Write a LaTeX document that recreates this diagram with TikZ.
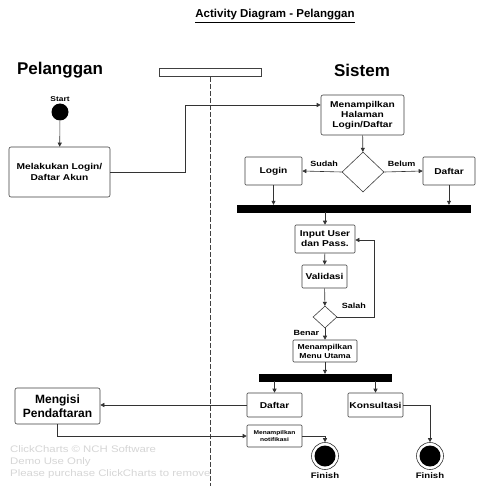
\documentclass[tikz,border=0pt]{standalone}
\usepackage{fontspec}
\setmainfont{Liberation Sans}
\newfontfamily\widesans[FakeStretch=1.2]{Liberation Sans}
\usetikzlibrary{arrows.meta,shapes.geometric,positioning}

\tikzset{
    actbox/.style={draw=black!75, rounded corners=2pt, align=center, inner sep=1pt, line width=0.6pt, font=\widesans\bfseries\fontsize{8.5}{10}\selectfont},
    decide/.style={draw=black!75, diamond, inner sep=0pt, line width=0.6pt},
    forkbar/.style={fill=black, draw=black, inner sep=0pt},
    flow/.style={draw=black!80, line width=0.6pt, -{Triangle[length=4pt,width=4pt]}},
    flowlabel/.style={font=\widesans\bfseries\fontsize{7.5}{9}\selectfont, inner sep=0.75pt},
    lanetitle/.style={font=\bfseries\fontsize{17}{19}\selectfont},
    endnode/.style={circle, draw=black!80, line width=0.6pt, minimum size=27pt, inner sep=0pt,
        path picture={\fill (path picture bounding box.center) circle (10.5pt);}}
}

\begin{document}
\begin{tikzpicture}[x=1pt,y=1pt,yscale=-1,xscale=1]
        \useasboundingbox (0,0) rectangle (486,486);
        \fill[white] (0,0) rectangle (486,486);

        % Title and swimlanes
        \node[font=\bfseries\fontsize{11.5}{13}\selectfont] (title) at (275,16) {\underline{Activity Diagram - Pelanggan}};
        \node[lanetitle] (pelanggan) at (60,70) {Pelanggan};
        \node[lanetitle] (sistem) at (362,70) {Sistem};
        \node[draw=black!75, line width=0.6pt, minimum width=102pt, minimum height=8pt, inner sep=0pt] (lane) at (210,72.5) {};
        \coordinate (laneend) at (210,486);
        \draw[black!75, line width=0.6pt, dash pattern=on 5pt off 2pt] (lane.south) -- (laneend);

        % Watermark
        \node[anchor=north west, align=left, text=black!16, font=\widesans\fontsize{9.5}{12}\selectfont, inner sep=0pt] (mark) at (10,445) {ClickCharts \copyright{} NCH Software\\Demo Use Only\\Please purchase ClickCharts to remove};

        % Pelanggan lane
        \node[circle, fill=black, minimum size=17pt, inner sep=0pt] (start) at (60,112) {};
        \node[flowlabel, font=\widesans\bfseries\fontsize{7}{8}\selectfont, above=1pt of start] (startlbl) {Start};
        \node[actbox, minimum width=101pt, minimum height=50pt, font=\widesans\bfseries\fontsize{8.5}{11.5}\selectfont] (akun) at (59.5,172) {Melakukan Login/\\Daftar Akun};
        \node[actbox, font=\bfseries\fontsize{12}{14}\selectfont, minimum width=85pt, minimum height=36pt] (mengisi) at (57.5,406) {Mengisi\\Pendaftaran};

        % Sistem lane
        \node[actbox, minimum width=83pt, minimum height=40pt] (halaman) at (362.5,115) {Menampilkan\\Halaman\\Login/Daftar};
        \node[decide, minimum width=42pt, minimum height=40pt] (cek) at (363,172) {};
        \node[actbox, rounded corners=1pt, minimum width=57pt, minimum height=28pt] (login) at (273.5,171) {Login};
        \node[actbox, rounded corners=1pt, minimum width=52pt, minimum height=28pt] (daftar) at (449,171) {Daftar};
        \node[forkbar, minimum width=233pt, minimum height=7pt] (fork1) at (353.5,208.5) {};
        \node[actbox, rounded corners=1pt, minimum width=60pt, minimum height=28pt] (input) at (325,239) {Input User\\dan Pass.};
        \node[actbox, rounded corners=1pt, minimum width=45pt, minimum height=23pt] (validasi) at (324.5,276.5) {Validasi};
        \node[decide, minimum width=24pt, minimum height=22pt] (valid) at (325,317) {};
        \node[actbox, rounded corners=1pt, font=\widesans\bfseries\fontsize{7.2}{9}\selectfont, minimum width=64pt, minimum height=22pt] (menu) at (325,351) {Menampilkan\\Menu Utama};
        \node[forkbar, minimum width=132pt, minimum height=7pt] (fork2) at (325,377.5) {};
        \node[actbox, rounded corners=1pt, minimum width=55pt, minimum height=24pt] (daftardua) at (274.5,405) {Daftar};
        \node[actbox, rounded corners=1pt, minimum width=55pt, minimum height=24pt] (konsul) at (375.5,405) {Konsultasi};
        \node[actbox, rounded corners=1pt, font=\widesans\bfseries\fontsize{5.5}{7}\selectfont, minimum width=55pt, minimum height=22pt] (notif) at (274.5,436) {Menampilkan\\notifikasi};
        \node[endnode] (finA) at (325,456) {};
        \node[endnode] (finB) at (430,456) {};
        \node[flowlabel, font=\widesans\bfseries\fontsize{8}{9}\selectfont, below=2pt of finA] (finAlbl) {Finish};
        \node[flowlabel, font=\widesans\bfseries\fontsize{8}{9}\selectfont, below=2pt of finB] (finBlbl) {Finish};

        % Bends
        \coordinate (bendA) at (185,105);
        \coordinate (loopR) at (374,317);
        \coordinate (loopT) at (374,240);

        % Flows
        \draw[flow] (start) -- (akun);
        \draw[flow] (akun.east) -| (bendA) -- (bendA -| halaman.west);
        \draw[flow] (halaman) -- (cek);
        \draw[flow] (cek.west) -- node[flowlabel, above=4pt, xshift=2pt] {Sudah} (login.east);
        \draw[flow] (cek.east) -- node[flowlabel, above=4pt, xshift=-2pt] {Belum} (daftar.west);
        \draw[flow] (login.south) -- (login.south |- fork1.north);
        \draw[flow] (daftar.south) -- (daftar.south |- fork1.north);
        \draw[flow] (input.north |- fork1.south) -- (input.north);
        \draw[flow] (input) -- (validasi);
        \draw[flow] (validasi) -- (valid);
        \draw[flow] (valid.east) -- (loopR) -- (loopT) -- (loopT -| input.east);
        \node[flowlabel, anchor=west] (salah) at (341,306) {Salah};
        \draw[flow] (valid.south) -- (menu.north);
        \node[flowlabel, anchor=east] (benar) at (320,333) {Benar};
        \draw[flow] (menu) -- (fork2);
        \draw[flow] (daftardua.north |- fork2.south) -- (daftardua.north);
        \draw[flow] (konsul.north |- fork2.south) -- (konsul.north);
        \draw[flow] (daftardua.west) -- (daftardua.west -| mengisi.east);
        \draw[flow] (mengisi.south) |- (notif.west);
        \draw[flow] (notif.east) -| (finA.north);
        \draw[flow] (konsul.east) -| (finB.north);

\end{tikzpicture}
\end{document}
